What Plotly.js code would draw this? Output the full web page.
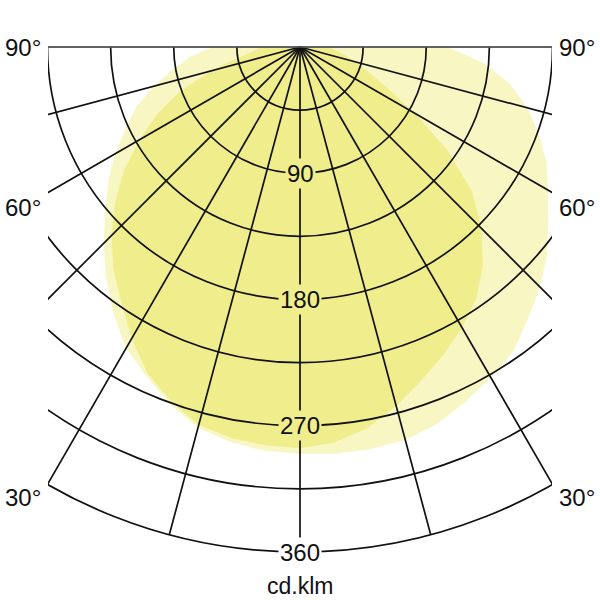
<!DOCTYPE html>
<html>
<head>
<meta charset="utf-8">
<script src="https://cdn.plot.ly/plotly-3.0.1.min.js"></script>
<style>
  html, body { margin: 0; padding: 0; width: 600px; height: 600px; overflow: hidden; background: #fff; }
  #plot { position: absolute; left: -205px; top: 0; }
</style>
</head>
<body>
<div id="plot"></div>
<script>
// angle from nadir in degrees, negative = left half
const gamma = [-90, -85, -80, -75, -70, -65, -60, -55, -50, -45, -40, -35, -30, -25, -20, -15, -10, -5,
  0, 5, 10, 15, 20, 25, 30, 35, 40, 45, 50, 55, 60, 65, 70, 75, 80, 85, 90];

// narrow plane (darker fill)
const planeA = [28, 33, 45, 65, 90, 112, 132, 153, 172, 190, 207, 222, 240, 257, 269, 279, 283, 285,
  286, 283, 276, 265, 253, 242, 231, 219, 203, 183, 160, 128, 95, 68, 52, 40, 32, 25, 20];

// wide plane (pale fill)
const planeB = [62, 78, 92, 108, 124, 137, 152, 167, 181, 198, 215, 232, 248, 259, 271, 281, 286, 289,
  290, 291, 291, 290, 286, 279, 272, 265, 253, 242, 230, 216, 204, 194, 181, 168, 152, 132, 105];

const rings = [45, 90, 135, 180, 225, 270, 315];
const spokes = [-75, -60, -45, -30, -15, 0, 15, 30, 45, 60, 75];
const ringLabels = [90, 180, 270, 360];
const angleLabels = ["90°", "60°", "30°"];
const unitLabel = "cd.klm";
const rMax = 360;

const DARK = "#f0ee8c";
const PALE = "#f8f6c2";
const INK = "#111111";
const FONT = "Liberation Sans, Arial, sans-serif";

// figure is wider than the window, the sides are masked off
const W = 1010, H = 600;
const M = { l: 0, r: 0, t: 47, b: 48 };
const offX = -205;
const plotW = W - M.l - M.r, plotH = H - M.t - M.b;
const px = x => (x - offX - M.l) / plotW;
const py = y => 1 - (y - M.t) / plotH;

const baseAxes = () => ({
  domain: { x: [0, 1], y: [0, 1] },
  sector: [180, 360],
  bgcolor: "rgba(0,0,0,0)",
  angularaxis: { type: "linear", rotation: -90, direction: "counterclockwise", thetaunit: "degrees",
    showticklabels: false, ticks: "", showgrid: false, showline: false },
  radialaxis: { type: "linear", range: [0, rMax], showticklabels: false, ticks: "",
    showgrid: false, showline: false }
});

const polar = baseAxes();
const polar2 = baseAxes();
Object.assign(polar2.angularaxis, {
  // visible angular span runs 270..450 in data degrees
  tickmode: "array", tickvals: spokes.map(a => a + 360),
  showgrid: true, gridcolor: INK, gridwidth: 1.7,
  showline: true, linecolor: INK, linewidth: 1.7
});
Object.assign(polar2.radialaxis, {
  tickmode: "array", tickvals: rings, showgrid: true, gridcolor: INK, gridwidth: 1.7
});

const traces = [
  { type: "scatterpolar", subplot: "polar", r: planeB, theta: gamma, mode: "lines",
    fill: "toself", fillcolor: PALE, line: { width: 0 },
    hoverinfo: "skip", showlegend: false },
  { type: "scatterpolar", subplot: "polar", r: planeA, theta: gamma, mode: "lines",
    fill: "toself", fillcolor: DARK, line: { width: 0 },
    hoverinfo: "skip", showlegend: false },
  // grid overlay subplot
  { type: "scatterpolar", subplot: "polar2", r: [0], theta: [0], mode: "lines",
    hoverinfo: "skip", showlegend: false }
];

const annotations = ringLabels.map(v => ({
  xref: "paper", yref: "paper", x: 0.5, y: 1 - v / rMax,
  text: String(v), showarrow: false, xanchor: "center", yanchor: "middle",
  font: { family: FONT, size: 24, color: INK },
  bgcolor: v < planeA[gamma.indexOf(0)] ? DARK : "#ffffff", borderpad: 1
}));

const angleY = [47, 207, 497];
angleLabels.forEach((t, i) => {
  annotations.push({ xref: "paper", yref: "paper", x: px(43), y: py(angleY[i]), text: t,
    showarrow: false, xanchor: "right", yanchor: "middle", font: { family: FONT, size: 24, color: INK } });
  annotations.push({ xref: "paper", yref: "paper", x: px(557), y: py(angleY[i]), text: t,
    showarrow: false, xanchor: "left", yanchor: "middle", font: { family: FONT, size: 24, color: INK } });
});
annotations.push({ xref: "paper", yref: "paper", x: 0.5, y: py(586), text: unitLabel,
  showarrow: false, xanchor: "center", yanchor: "middle", font: { family: FONT, size: 23, color: INK } });

const shapes = [
  { type: "rect", xref: "paper", yref: "paper", x0: px(-300), x1: px(48), y0: py(700), y1: py(-20),
    fillcolor: "#ffffff", line: { width: 0 }, layer: "above" },
  { type: "rect", xref: "paper", yref: "paper", x0: px(552), x1: px(900), y0: py(700), y1: py(-20),
    fillcolor: "#ffffff", line: { width: 0 }, layer: "above" },
  { type: "line", xref: "paper", yref: "paper", x0: px(48), x1: px(552), y0: 1, y1: 1,
    line: { color: "#7a7a7a", width: 1 }, layer: "above" }
];

Plotly.newPlot("plot", traces, {
  width: W, height: H, autosize: false,
  margin: M, paper_bgcolor: "rgba(0,0,0,0)", plot_bgcolor: "rgba(0,0,0,0)",
  polar: polar, polar2: polar2,
  annotations: annotations, shapes: shapes, showlegend: false
}, { staticPlot: true, displayModeBar: false });
</script>
</body>
</html>
